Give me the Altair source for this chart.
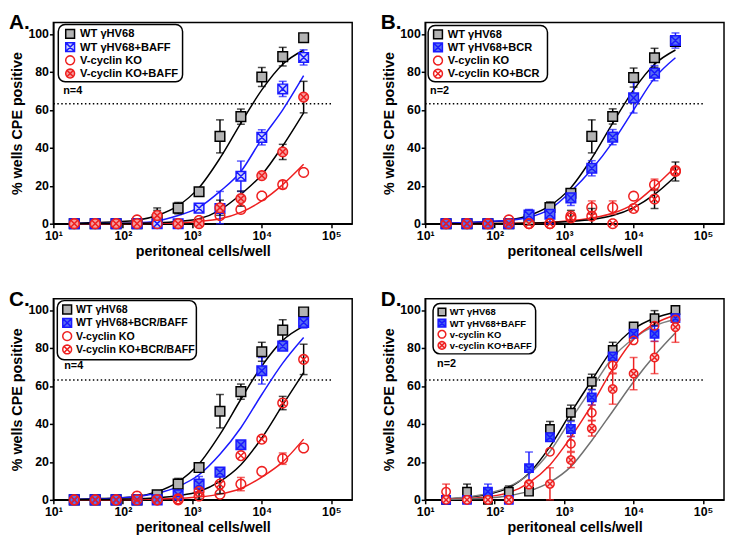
import math
import altair as alt
import pandas as pd

FONT = "Liberation Sans"
BLUE = "#1a1aff"
RED = "#ee2020"

X_DIL = [20, 40, 80, 160, 312, 625, 1250, 2500, 5000, 10000, 20000, 40000]
X_TICKS = [10, 100, 1000, 10000, 100000]
Y_TICKS = [0, 20, 40, 60, 80, 100]
THRESHOLD = 63.2
THRESHOLD_X = [10, 100000]

# ---------------- Panel A ----------------
A_LABELS = ["WT γHV68", "WT γHV68+BAFF", "V-cyclin KO", "V-cyclin KO+BAFF"]
A_WT = [0, 0, 0, 0, 2, 8.2, 16.8, 46, 56.4, 77.3, 88, 98]
A_WT_ERR = [0, 0, 0, 0, 5, 3, 0, 8.7, 4, 5, 4.9, 0]
A_BAFF = [0, 0, 0, 0, 0, 0, 8.2, 8, 25, 45.5, 71, 87.6]
A_BAFF_ERR = [0, 0, 0, 0, 0, 0, 0, 9, 8, 4, 4, 4]
A_KO = [0, 0, 0, 2, 0, 0, 1.7, 4.3, 7.5, 14.6, 20.6, 27]
A_KO_ERR = [0, 0, 0, 0, 0, 0, 0, 0, 0, 0, 2, 0]
A_KOB = [0, 0, 0, 0, 4.3, 0, 0, 8.4, 13.2, 25.3, 37.8, 66.7]
A_KOB_ERR = [0, 0, 0, 0, 4, 0, 0, 4, 4, 0, 4, 8.3]
A_WT_FIT = [0.3, 0.6, 1.0, 1.8, 4.3, 9.5, 19, 34.5, 53, 70.5, 84, 91.5]
A_BAFF_FIT = [0.1, 0.1, 0.2, 0.4, 1.4, 4.3, 8.6, 17, 27.5, 44.7, 60, 78]
A_KO_FIT = [0, 0, 0, 0.1, 0.2, 0.5, 1.2, 2.6, 6, 12, 20.6, 31.3]
A_KOB_FIT = [0, 0.1, 0.1, 0.2, 0.5, 1.2, 2.6, 7.2, 15.5, 25.8, 41, 58.4]

# ---------------- Panel B ----------------
B_LABELS = ["WT γHV68", "WT γHV68+BCR", "V-cyclin KO", "V-cyclin KO+BCR"]
B_WT = [0, 0, 0, 0, 2, 8.5, 16, 46, 56.5, 77, 87.4, 96]
B_WT_ERR = [0, 0, 0, 0, 5, 3, 0, 8.7, 4, 5, 5, 0]
B_BCR = [0, 0, 0, 0, 4.5, 5, 13.6, 29.2, 45.6, 66.3, 79.3, 96.5]
B_BCR_ERR = [0, 0, 0, 0, 3, 5, 4, 4, 4, 8, 4, 4]
B_KO = [0, 0, 0, 2, 0, 0, 4, 8.5, 8.5, 14.5, 20.5, 28]
B_KO_ERR = [0, 0, 0, 0, 0, 0, 0, 3.5, 3.5, 0, 3, 0]
B_KOB = [0, 0, 0, 0, 0, 0, 3, 4, 0, 8, 13, 27.5]
B_KOB_ERR = [0, 0, 0, 0, 0, 0, 4, 4, 0, 0, 5, 5]
B_WT_FIT = [0.3, 0.6, 1.0, 1.8, 4.3, 9.5, 19, 34.5, 53, 70.5, 84, 91.5]
B_BCR_FIT = [0.3, 0.6, 1.1, 1.8, 3.4, 7.7, 17, 28.7, 43, 60, 76.7, 87.4]
B_KO_FIT = [0, 0, 0.1, 0.2, 0.4, 0.8, 1.5, 3, 5.5, 10.5, 19.5, 30]
B_KOB_FIT = [0, 0, 0.1, 0.1, 0.3, 0.6, 1.2, 2.2, 4.3, 8.5, 15.4, 25]

# ---------------- Panel C ----------------
C_LABELS = ["WT γHV68", "WT γHV68+BCR/BAFF", "V-cyclin KO", "V-cyclin KO+BCR/BAFF"]
C_WT = [0, 0, 0, 0, 2.6, 8.3, 17, 46.7, 57, 78, 89.4, 99]
C_WT_ERR = [0, 0, 0, 0, 0, 3, 0, 8.8, 4, 5, 5.5, 0]
C_BB = [0, 0, 0, 0, 0, 2.6, 8.3, 14.6, 29, 68, 81, 93.5]
C_BB_ERR = [0, 0, 0, 0, 0, 0, 4, 0, 0, 7, 0, 3]
C_KO = [0, 0, 0, 2, 0, 0.5, 2, 3, 8.3, 15, 21.7, 27.3]
C_KO_ERR = [0, 0, 0, 0, 0, 0, 0, 0, 3.5, 0, 3, 0]
C_KOB = [0, 0, 0, 0, 0, 0, 4.4, 8.3, 23.3, 32, 51, 74]
C_KOB_ERR = [0, 0, 0, 0, 0, 0, 4, 5, 0, 0, 3.5, 8]
C_WT_FIT = [0.3, 0.6, 1.0, 1.8, 4.3, 9.5, 19, 34.5, 53, 70.5, 84, 91.5]
C_BB_FIT = [0.2, 0.4, 0.9, 1.8, 3.5, 7, 13.2, 24, 38, 55.5, 72, 85.5]
C_KO_FIT = [0, 0, 0.1, 0.2, 0.4, 0.8, 1.5, 3, 6, 12, 20, 32]
C_KOB_FIT = [0.1, 0.2, 0.3, 0.6, 1.1, 2.2, 4.4, 9.7, 18.5, 32.6, 50, 67]

# ---------------- Panel D ----------------
D_LABELS = ["WT γHV68", "WT γHV68+BAFF", "v-cyclin KO", "v-cyclin KO+BAFF"]
D_WT = [0, 4.3, 0, 4.3, 4.3, 37.3, 45.9, 62.2, 79, 91.4, 95.7, 100]
D_WT_ERR = [0, 4, 0, 3, 0, 4, 4, 4, 4, 0, 4, 0]
D_BAFF = [0, 0, 4.3, 0, 16.7, 33, 37.3, 54, 75.6, 87.5, 87.5, 95.7]
D_BAFF_ERR = [0, 0, 4, 0, 8.5, 0, 4, 4, 0, 0, 4, 0]
D_KO = [4.3, 0, 0, 0, 8.4, 25.3, 29.5, 45.9, 70.8, 84, 91.7, 95]
D_KO_ERR = [4, 0, 0, 0, 0, 0, 4, 4, 4, 0, 0, 0]
D_KOB = [0, 0, 0, 0, 8, 8.4, 21, 37.6, 58.4, 66.5, 75, 91]
D_KOB_ERR = [0, 0, 0, 0, 0, 8.5, 4, 4, 8, 8.5, 8.5, 8]
D_WT_FIT = [0.5, 1.3, 2.9, 6.4, 14, 28, 45.9, 63, 79.4, 90, 95.7, 99]
D_BAFF_FIT = [0.6, 1.5, 3.4, 7, 13.5, 25.5, 42.4, 58.8, 75, 85, 91.7, 95]
D_KO_FIT = [0.3, 0.7, 1.7, 3.8, 9, 18.4, 33, 50, 69, 84.5, 92.8, 97.4]
D_KOB_FIT = [0.2, 0.5, 1, 2.2, 4.6, 9.3, 17.5, 31.3, 46.7, 62.2, 76, 88]

# marker outlines (unit-sized SVG paths)
_ring = [(math.cos(2 * math.pi * k / 24), math.sin(2 * math.pi * k / 24)) for k in range(24)]
RING = "M" + "L".join(f"{a:.3f},{b:.3f}" for a, b in _ring) + "Z"
SQUARE = "M-1,-1H1V1H-1Z"
SQUARE_X = "M-1,-1H1V1H-1Z M-1,-1L1,1 M1,-1L-1,1"
CIRCLE_X = RING + " M-0.7,-0.7L0.7,0.7 M0.7,-0.7L-0.7,0.7"
SHAPES = [SQUARE, SQUARE_X, RING, CIRCLE_X]
STROKES = ["black", BLUE, RED, RED]

W, H = 303, 204


def panel(letter, n_text, labels, means, errs, fits, fit_colors, err_colors,
          fills, box, row0, row_step, sym_dx, txt_dx, legend_font, leg_sym, sym_size, n_xy):
    pts, lines = [], []
    for lab, m, e, f, fc, ec in zip(labels, means, errs, fits, fit_colors, err_colors):
        for x, y, d, fy in zip(X_DIL, m, e, f):
            pts.append(dict(x=x, y=y, series=lab, lo=max(y - d, 0), hi=y + d, err=d, ec=ec))
            lines.append(dict(x=x, y=fy, series=lab, lc=fc))
    pts = pd.DataFrame(pts)
    lines = pd.DataFrame(lines)
    errs_df = pts[pts["err"] > 0]

    xscale = alt.Scale(type="log", domain=[10, 200000], nice=False)
    xaxis = alt.Axis(values=X_TICKS, grid=False, labelFlush=False, labelPadding=2,
                     labelExpr="'10' + ['⁰','¹','²','³','⁴','⁵'][round(log(datum.value)/LN10)]")
    yscale = alt.Scale(domain=[0, 106], nice=False, zero=False)
    yaxis = alt.Axis(values=Y_TICKS, grid=False)
    XT = "peritoneal cells/well"
    YT = "% wells CPE positive"

    def X(field):
        return alt.X(f"{field}:Q", scale=xscale, axis=xaxis, title=XT)

    def Y(field):
        return alt.Y(f"{field}:Q", scale=yscale, axis=yaxis, title=YT)

    thr = pd.DataFrame({"x": [THRESHOLD_X[0]], "x2": [THRESHOLD_X[1]], "y": [THRESHOLD]})
    rule = alt.Chart(thr).mark_rule(color="black", strokeWidth=1.5, strokeDash=[1.5, 2.5]).encode(
        x=X("x"), x2="x2:Q", y=Y("y"))

    curves = alt.Chart(lines).mark_line(strokeWidth=1.5, interpolate="monotone").encode(
        x=X("x"), y=Y("y"), detail="series:N", color=alt.Color("lc:N", scale=None))

    ebar = alt.Chart(errs_df).mark_rule(strokeWidth=1.5).encode(
        x=X("x"), y=Y("lo"), y2="hi:Q", color=alt.Color("ec:N", scale=None))
    cap_lo = alt.Chart(errs_df).mark_tick(orient="horizontal", size=8, thickness=1.5).encode(
        x=X("x"), y=Y("lo"), color=alt.Color("ec:N", scale=None))
    cap_hi = alt.Chart(errs_df).mark_tick(orient="horizontal", size=8, thickness=1.5).encode(
        x=X("x"), y=Y("hi"), color=alt.Color("ec:N", scale=None))

    points = alt.Chart(pts).mark_point(size=sym_size, strokeWidth=1.5, opacity=1).encode(
        x=X("x"), y=Y("y"),
        shape=alt.Shape("series:N", scale=alt.Scale(domain=labels, range=SHAPES), legend=None),
        fill=alt.Fill("series:N", scale=alt.Scale(domain=labels, range=fills), legend=None),
        stroke=alt.Stroke("series:N", scale=alt.Scale(domain=labels, range=STROKES), legend=None),
    )

    # legend box drawn with marks
    bx, by, bw, bh = box
    leg_layers = [alt.Chart(pd.DataFrame({"k": [letter]})).mark_rect(
        cornerRadius=7, fill="white", stroke="black", strokeWidth=1.5).encode(
        x=alt.value(bx), x2=alt.value(bx + bw), y=alt.value(by), y2=alt.value(by + bh))]
    for i, lab in enumerate(labels):
        ry = by + row0 + i * row_step
        d = pd.DataFrame({"series": [lab]})
        leg_layers.append(alt.Chart(d).mark_point(
            shape=SHAPES[i], fill=fills[i], stroke=STROKES[i], size=leg_sym, strokeWidth=1.5,
            opacity=1).encode(x=alt.value(bx + sym_dx), y=alt.value(ry)))
        leg_layers.append(alt.Chart(d).mark_text(
            align="left", baseline="middle", font=FONT, fontSize=legend_font, fontWeight="bold",
            color="black").encode(x=alt.value(bx + txt_dx), y=alt.value(ry + 0.5), text="series:N"))

    letter_t = alt.Chart(pd.DataFrame({"t": [letter]})).mark_text(
        align="left", baseline="alphabetic", font=FONT, fontSize=21, fontWeight="bold",
        color="black").encode(x=alt.value(-45), y=alt.value(7), text="t:N")
    n_t = alt.Chart(pd.DataFrame({"t": [n_text]})).mark_text(
        align="left", baseline="middle", font=FONT, fontSize=11, fontWeight="bold",
        color="black").encode(x=alt.value(n_xy[0]), y=alt.value(n_xy[1]), text="t:N")

    return alt.layer(rule, curves, ebar, cap_lo, cap_hi, points, *leg_layers,
                     letter_t, n_t).properties(width=W, height=H)


pA = panel("A.", "n=4", A_LABELS,
           [A_WT, A_BAFF, A_KO, A_KOB], [A_WT_ERR, A_BAFF_ERR, A_KO_ERR, A_KOB_ERR],
           [A_WT_FIT, A_BAFF_FIT, A_KO_FIT, A_KOB_FIT],
           ["black", BLUE, RED, "black"], ["black", BLUE, RED, "black"],
           ["#b3b3b3", "#cdd4f8", "transparent", "#f5a0a0"],
           (5, 2, 126, 58), 9.5, 13.4, 12, 22, 11.3, 80, 95, (10, 70))
pB = panel("B.", "n=2", B_LABELS,
           [B_WT, B_BCR, B_KO, B_KOB], [B_WT_ERR, B_BCR_ERR, B_KO_ERR, B_KOB_ERR],
           [B_WT_FIT, B_BCR_FIT, B_KO_FIT, B_KOB_FIT],
           ["black", BLUE, RED, "black"], ["black", BLUE, RED, "black"],
           ["#b3b3b3", "#5a70f0", "transparent", "transparent"],
           (3, 3, 121, 57), 9, 13.3, 10, 20, 11.2, 80, 95, (5, 69))
pC = panel("C.", "n=4", C_LABELS,
           [C_WT, C_BB, C_KO, C_KOB], [C_WT_ERR, C_BB_ERR, C_KO_ERR, C_KOB_ERR],
           [C_WT_FIT, C_BB_FIT, C_KO_FIT, C_KOB_FIT],
           ["black", BLUE, RED, "black"], ["black", BLUE, RED, "black"],
           ["#b3b3b3", "#5a70f0", "transparent", "transparent"],
           (4, 2, 141, 60), 9, 13.5, 10, 19, 10.7, 80, 95, (11, 68))
pD = panel("D.", "n=2", D_LABELS,
           [D_WT, D_BAFF, D_KO, D_KOB], [D_WT_ERR, D_BAFF_ERR, D_KO_ERR, D_KOB_ERR],
           [D_WT_FIT, D_BAFF_FIT, D_KO_FIT, D_KOB_FIT],
           ["black", "#808080", RED, "#707070"], ["black", BLUE, RED, RED],
           ["#b3b3b3", "#3f5cf0", "transparent", "#f9d0d0"],
           (8, 5, 104, 51), 8.5, 11.3, 9, 17, 9.5, 60, 72, (12, 66))

chart = alt.concat(pA, pB, pC, pD, columns=2, spacing={"row": 76, "column": 74},
                   bounds="flush", padding=0).resolve_scale(
    x="independent", y="independent", shape="independent", fill="independent",
    stroke="independent", color="independent"
).configure_view(stroke="black", strokeWidth=1.5).configure_axis(
    domainColor="black", domainWidth=1.5, tickColor="black", tickWidth=1.5, tickSize=4,
    labelFont=FONT, labelFontSize=12.5, labelFontWeight="bold", labelColor="black",
    labelPadding=1, titleFont=FONT, titleFontSize=14.5, titleFontWeight="bold",
    titleColor="black"
).configure_axisX(titlePadding=3).configure_axisY(titlePadding=3)

chart.save("out.html", embed_options={"renderer": "svg", "actions": False})
